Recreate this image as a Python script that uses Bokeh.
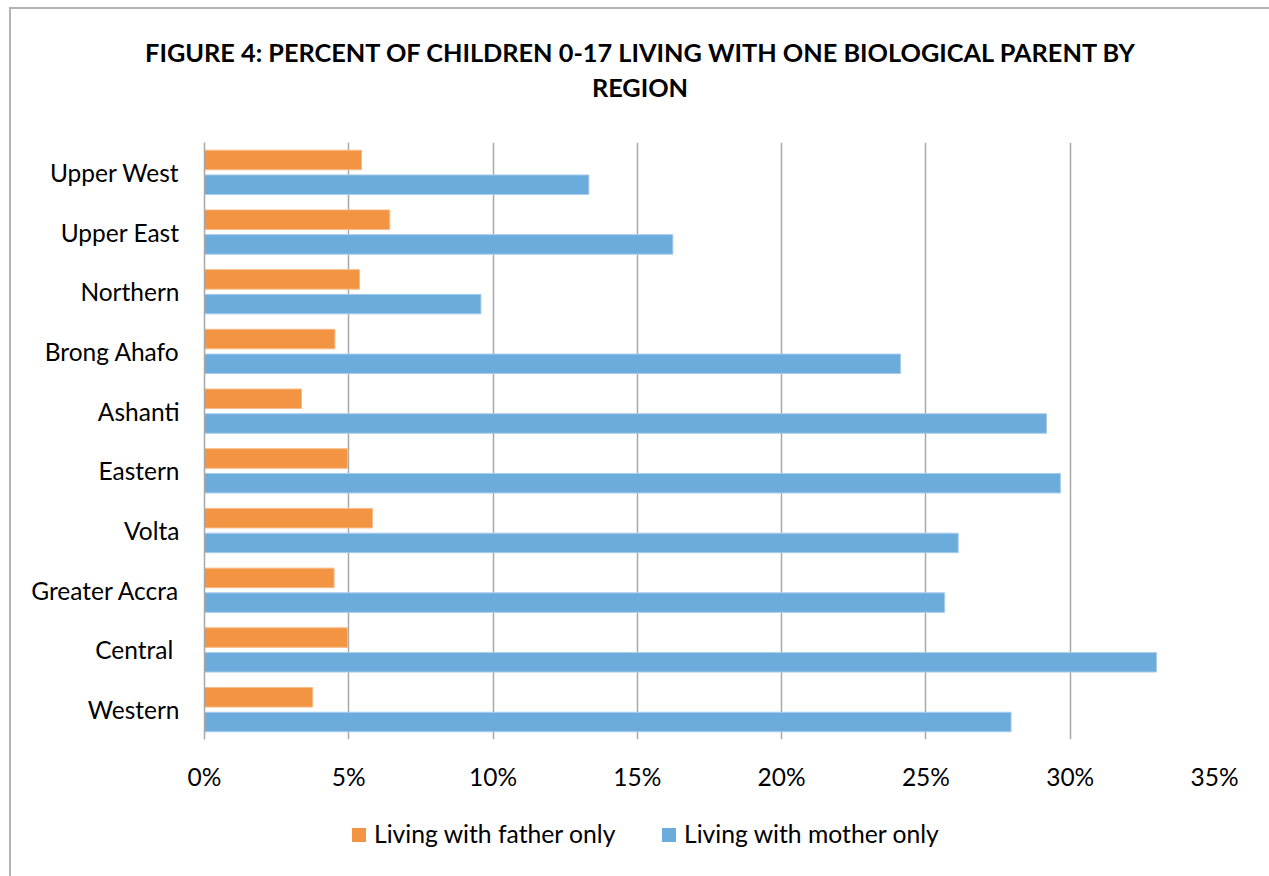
from bokeh.plotting import figure
from bokeh.layouts import column
from bokeh.models import (ColumnDataSource, FixedTicker, Range1d, FactorRange,
                          PrintfTickFormatter, Div)
from bokeh.transform import dodge
from bokeh.embed import file_html
from bokeh.resources import INLINE

# Regions listed bottom-to-top (categorical y axis grows upward)
regions = ["Western", "Central ", "Greater Accra", "Volta", "Eastern",
           "Ashanti", "Brong Ahafo", "Northern", "Upper East", "Upper West"]
father_only = [3.75, 4.96, 4.49, 5.82, 4.96, 3.36, 4.52, 5.37, 6.42, 5.44]
mother_only = [27.95, 32.99, 25.65, 26.12, 29.66, 29.18, 24.12, 9.58, 16.23, 13.32]
x_ticks = [0, 5, 10, 15, 20, 25, 30, 35]

title_lines = ["FIGURE 4: PERCENT OF CHILDREN 0-17 LIVING WITH ONE BIOLOGICAL PARENT BY",
               "REGION"]
series_names = ["Living with father only", "Living with mother only"]

FONT = "Lato"
ORANGE = "#F39442"
BLUE = "#6CACDC"
GRID = "#a8a8a8"
W = 1258

src = ColumnDataSource(dict(region=regions, father=father_only, mother=mother_only))

# --- title block -----------------------------------------------------------
title_div = Div(
    width=W, height=128, margin=0,
    text=(f'<div style="position:relative;width:{W}px;height:128px;">'
          f'<div style="position:absolute;left:0;top:26px;width:{W}px;'
          f'text-align:center;font-family:{FONT};font-weight:bold;'
          f'font-size:25.3px;line-height:35px;color:#000;white-space:nowrap;">'
          f'{title_lines[0]}<br>{title_lines[1]}</div></div>'),
)

# --- chart -----------------------------------------------------------------
p = figure(
    y_range=FactorRange(factors=regions, range_padding=0.0),
    x_range=Range1d(0, 35),
    frame_width=1010, frame_height=597,
    min_border_left=193, min_border_right=55,
    min_border_top=5, min_border_bottom=60,
    output_backend="svg", toolbar_location=None,
)
p.margin = 0

bar_h = 0.327
p.hbar(y=dodge("region", 0.207, range=p.y_range), right="father", left=0,
       height=bar_h, source=src, fill_color=ORANGE,
       line_color="#f7bb88", line_width=1)
p.hbar(y=dodge("region", -0.207, range=p.y_range), right="mother", left=0,
       height=bar_h, source=src, fill_color=BLUE,
       line_color="#a8cdec", line_width=1)

p.xaxis.ticker = FixedTicker(ticks=x_ticks)
p.xaxis.formatter = PrintfTickFormatter(format="%d%%")
p.xaxis.axis_line_color = None
p.xaxis.major_tick_line_color = None
p.xaxis.minor_tick_line_color = None
p.xaxis.major_label_text_font = FONT
p.xaxis.major_label_text_font_size = "24.5px"
p.xaxis.major_label_text_color = "#000000"
p.xaxis.major_label_standoff = 16

p.yaxis.axis_line_color = GRID
p.yaxis.axis_line_width = 1.5
p.yaxis.major_tick_line_color = None
p.yaxis.minor_tick_line_color = None
p.yaxis.major_label_text_font = FONT
p.yaxis.major_label_text_font_size = "24.5px"
p.yaxis.major_label_text_color = "#000000"
p.yaxis.major_label_standoff = 19

p.xgrid.grid_line_color = GRID
p.xgrid.grid_line_width = 1.5
p.ygrid.grid_line_color = None
p.outline_line_color = None

# --- legend block ----------------------------------------------------------
def legend_entry(left, color, label):
    return (f'<div style="position:absolute;left:{left}px;top:29px;width:14px;'
            f'height:14px;background:{color};"></div>'
            f'<div style="position:absolute;left:{left + 22}px;top:20px;'
            f'font-family:{FONT};font-size:24.7px;line-height:30px;color:#000;'
            f'white-space:nowrap;">{label}</div>')

legend_div = Div(
    width=W, height=77, margin=0,
    text=(f'<div style="position:relative;width:{W}px;height:77px;">'
          + legend_entry(341, ORANGE, series_names[0])
          + legend_entry(651, BLUE, series_names[1])
          + '</div>'),
)

layout = column(title_div, p, legend_div, spacing=0)
layout.margin = (7, 0, 0, 9)
layout.styles = {"border-top": "2px solid #b3b3b3", "border-left": "2px solid #b3b3b3"}

open("out.html", "w").write(file_html(layout, INLINE))
